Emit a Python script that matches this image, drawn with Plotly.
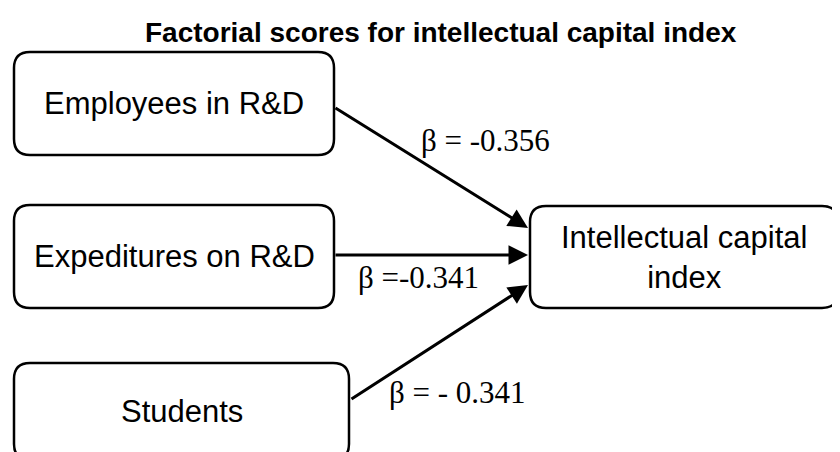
import plotly.graph_objects as go

# ---- data ----
title_text = "Factorial scores for intellectual capital index"
source_nodes = ["Employees in R&D", "Expeditures on R&D", "Students"]
target_node = "Intellectual capital<br>index"
beta_labels = ["β = -0.356", "β =-0.341", "β = - 0.341"]

# ---- layout (pixel-like coordinates on hidden axes) ----
W, H = 840, 452
OFF = 8  # page body margin offset
src_boxes = [(14, 52, 334, 155), (14, 205, 334, 308), (14, 363, 349, 460)]
tgt_box = (530, 206, 838, 308)
arrow_starts = [(334, 107), (334, 255), (350, 400)]
arrow_ends = [(528, 228), (528, 255), (528, 285)]
beta_pos = [(485, 140), (418, 277), (457, 392)]

BOX_FONT = dict(family="Liberation Sans, Arial, sans-serif", size=31, color="black")
BETA_FONT = dict(family="Liberation Serif, Times New Roman, serif", size=31, color="black")


def rrect(x0, y0, x1, y1, r=16):
    return (f"M {x0+r},{y0} L {x1-r},{y0} Q {x1},{y0} {x1},{y0+r} "
            f"L {x1},{y1-r} Q {x1},{y1} {x1-r},{y1} L {x0+r},{y1} "
            f"Q {x0},{y1} {x0},{y1-r} L {x0},{y0+r} Q {x0},{y0} {x0+r},{y0} Z")


fig = go.Figure()
fig.add_trace(go.Scatter(x=[OFF, W + OFF], y=[OFF, H + OFF], mode="markers",
                         marker=dict(opacity=0), hoverinfo="skip", showlegend=False))

shapes = []
annotations = []

for label, (x0, y0, x1, y1) in zip(source_nodes, src_boxes):
    shapes.append(dict(type="path", path=rrect(x0, y0, x1, y1), xref="x", yref="y",
                       line=dict(color="black", width=2.5), fillcolor="white", layer="below"))
    annotations.append(dict(x=(x0 + x1) / 2, y=(y0 + y1) / 2, xref="x", yref="y",
                            text=label, showarrow=False, font=BOX_FONT,
                            xanchor="center", yanchor="middle"))

x0, y0, x1, y1 = tgt_box
shapes.append(dict(type="path", path=rrect(x0, y0, x1, y1), xref="x", yref="y",
                   line=dict(color="black", width=2.5), fillcolor="white", layer="below"))
annotations.append(dict(x=(x0 + x1) / 2, y=(y0 + y1) / 2, xref="x", yref="y",
                        text=target_node, showarrow=False, font=BOX_FONT,
                        xanchor="center", yanchor="middle"))

for (sx, sy), (ex, ey) in zip(arrow_starts, arrow_ends):
    annotations.append(dict(x=ex, y=ey, ax=sx, ay=sy, xref="x", yref="y",
                            axref="x", ayref="y", text="", showarrow=True,
                            arrowhead=2, arrowsize=1.3, arrowwidth=3,
                            arrowcolor="black"))

for label, (bx, by) in zip(beta_labels, beta_pos):
    annotations.append(dict(x=bx, y=by, xref="x", yref="y", text=label,
                            showarrow=False, font=BETA_FONT,
                            xanchor="center", yanchor="middle"))

annotations.append(dict(x=441, y=32, xref="x", yref="y", text=f"<b>{title_text}</b>",
                        showarrow=False,
                        font=dict(family="Liberation Sans, Arial, sans-serif", size=28, color="black"),
                        xanchor="center", yanchor="middle"))

fig.update_layout(
    width=W, height=H,
    margin=dict(l=0, r=0, t=0, b=0),
    paper_bgcolor="white", plot_bgcolor="white",
    xaxis=dict(range=[OFF, W + OFF], visible=False, fixedrange=True),
    yaxis=dict(range=[H + OFF, OFF], visible=False, fixedrange=True),
    shapes=shapes, annotations=annotations, showlegend=False,
)

fig.write_html("out.html")
